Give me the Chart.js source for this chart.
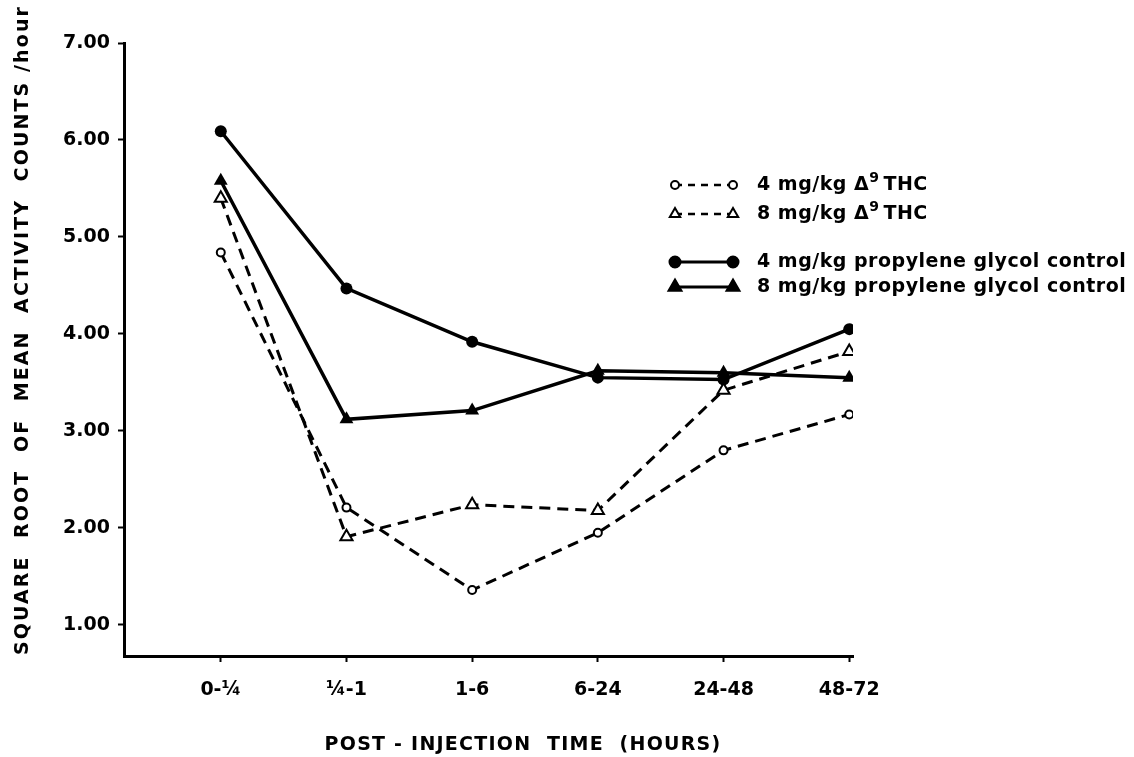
<!DOCTYPE html>
<html>
<head>
<meta charset="utf-8">
<script src="https://cdn.jsdelivr.net/npm/chart.js@4/dist/chart.umd.min.js"></script>
<style>
  html, body { margin: 0; padding: 0; background: #fff; }
  #wrap { width: 1134px; height: 757px; position: relative; }
</style>
</head>
<body>
<div id="wrap"><canvas id="myChart"></canvas></div>
<script>
// data
const timeLabels = ['0-¼', '¼-1', '1-6', '6-24', '24-48', '48-72'];
const yTicks = [1, 2, 3, 4, 5, 6, 7];
const thc4 = [4.84, 2.21, 1.36, 1.95, 2.80, 3.17];
const thc8 = [5.40, 1.91, 2.24, 2.18, 3.42, 3.82];
const pg4 = [6.09, 4.47, 3.92, 3.55, 3.53, 4.05];
const pg8 = [5.58, 3.12, 3.21, 3.62, 3.60, 3.55];
const seriesNames = [
  '4 mg/kg Δ⁹ THC',
  '8 mg/kg Δ⁹ THC',
  '4 mg/kg propylene glycol control',
  '8 mg/kg propylene glycol control'
];
const yTitle = 'SQUARE  ROOT  OF  MEAN  ACTIVITY  COUNTS /hour';
const xTitle = 'POST - INJECTION  TIME  (HOURS)';

const FONT = "'DejaVu Sans', sans-serif";

function pts(arr) {
  return arr.map((v, i) => ({ x: i, y: v }));
}

const data = {
  datasets: [
    {
      label: seriesNames[0],
      data: pts(thc4),
      borderColor: '#000',
      borderWidth: 3,
      borderDash: [11, 7],
      pointStyle: 'circle',
      pointRadius: 4,
      pointBorderWidth: 2,
      pointBackgroundColor: '#fff',
      pointBorderColor: '#000'
    },
    {
      label: seriesNames[1],
      data: pts(thc8),
      borderColor: '#000',
      borderWidth: 3,
      borderDash: [11, 7],
      pointStyle: 'triangle',
      pointRadius: 7,
      pointBorderWidth: 2,
      pointBackgroundColor: '#fff',
      pointBorderColor: '#000'
    },
    {
      label: seriesNames[2],
      data: pts(pg4),
      borderColor: '#000',
      borderWidth: 3.5,
      pointStyle: 'circle',
      pointRadius: 6,
      pointBorderWidth: 0,
      pointBackgroundColor: '#000',
      pointBorderColor: '#000'
    },
    {
      label: seriesNames[3],
      data: pts(pg8),
      borderColor: '#000',
      borderWidth: 3.5,
      pointStyle: 'triangle',
      pointRadius: 8,
      pointBorderWidth: 0,
      pointBackgroundColor: '#000',
      pointBorderColor: '#000'
    }
  ]
};

// legend rows drawn by hand (samples with a marker at each end)
const legendRows = [
  { y: 185, dash: [7, 6], style: 'circle', r: 4, fill: '#fff', lw: 2.5 },
  { y: 214, dash: [7, 6], style: 'triangle', r: 6, fill: '#fff', lw: 2.5 },
  { y: 262, dash: [], style: 'circle', r: 5.5, fill: '#000', lw: 3 },
  { y: 287, dash: [], style: 'triangle', r: 7.5, fill: '#000', lw: 3 }
];

function marker(ctx, style, x, y, r, fill) {
  ctx.beginPath();
  if (style === 'circle') {
    ctx.arc(x, y, r, 0, Math.PI * 2);
  } else {
    let a = 0;
    ctx.moveTo(x + Math.sin(a) * r, y - Math.cos(a) * r);
    a += Math.PI * 2 / 3;
    ctx.lineTo(x + Math.sin(a) * r, y - Math.cos(a) * r);
    a += Math.PI * 2 / 3;
    ctx.lineTo(x + Math.sin(a) * r, y - Math.cos(a) * r);
    ctx.closePath();
  }
  ctx.setLineDash([]);
  ctx.fillStyle = fill;
  ctx.fill();
  ctx.lineWidth = 2;
  ctx.strokeStyle = '#000';
  ctx.stroke();
}

function setSpacing(ctx, px) {
  if ('letterSpacing' in ctx) ctx.letterSpacing = px.toFixed(2) + 'px';
}

function spacedText(ctx, text, x, y, targetW) {
  setSpacing(ctx, 0);
  const w = ctx.measureText(text).width;
  if (targetW) setSpacing(ctx, (targetW - w) / text.length);
  ctx.fillText(text, x, y);
  setSpacing(ctx, 0);
}

// legend label: the superscript 9 is drawn as a raised smaller digit
function legendLabel(ctx, text, x, y) {
  const parts = text.split('⁹');
  ctx.textAlign = 'left';
  ctx.textBaseline = 'middle';
  setSpacing(ctx, 0.5);
  ctx.font = 'bold 19px ' + FONT;
  ctx.fillText(parts[0], x, y);
  x += ctx.measureText(parts[0]).width;
  if (parts.length > 1) {
    ctx.font = 'bold 14px ' + FONT;
    ctx.fillText('9', x, y - 7);
    x += ctx.measureText('9').width + 4;
    ctx.font = 'bold 19px ' + FONT;
    ctx.fillText(parts[1].trimStart(), x, y);
  }
  setSpacing(ctx, 0);
}

const paperPlugin = {
  id: 'paper',
  afterDraw(chart) {
    const ctx = chart.ctx;
    ctx.save();
    ctx.fillStyle = '#000';

    legendRows.forEach((row, i) => {
      ctx.beginPath();
      ctx.setLineDash(row.dash);
      ctx.lineWidth = row.lw;
      ctx.strokeStyle = '#000';
      ctx.moveTo(675, row.y);
      ctx.lineTo(733, row.y);
      ctx.stroke();
      marker(ctx, row.style, 675, row.y, row.r, row.fill);
      marker(ctx, row.style, 733, row.y, row.r, row.fill);
      ctx.fillStyle = '#000';
      legendLabel(ctx, seriesNames[i], 757, row.y);
    });

    // axis titles
    ctx.font = 'bold 19px ' + FONT;
    ctx.textAlign = 'center';
    ctx.textBaseline = 'middle';
    spacedText(ctx, xTitle, 523, 745, 397);

    ctx.translate(23, 330);
    ctx.rotate(-Math.PI / 2);
    spacedText(ctx, yTitle, 0, 0, 650);
    ctx.restore();
  }
};

const config = {
  type: 'line',
  data: data,
  options: {
    responsive: true,
    maintainAspectRatio: false,
    animation: false,
    layout: {
      padding: { top: 43, right: 281, bottom: 0, left: 0 }
    },
    plugins: {
      legend: { display: false },
      tooltip: { enabled: false }
    },
    scales: {
      x: {
        type: 'linear',
        min: -0.77,
        max: 5.03,
        afterBuildTicks: (s) => { s.ticks = timeLabels.map((_, i) => ({ value: i })); },
        afterFit: (s) => { s.height = 101; s.paddingLeft = 0; s.paddingRight = 0; },
        border: { color: '#000', width: 3 },
        grid: { drawOnChartArea: false, drawTicks: true, tickLength: 6, tickWidth: 2, tickColor: '#000' },
        ticks: {
          autoSkip: false,
          maxRotation: 0,
          padding: 17,
          color: '#000',
          font: { family: FONT, size: 19, weight: 'bold' },
          callback: (v) => timeLabels[v]
        }
      },
      y: {
        min: 0.68,
        max: 7,
        afterBuildTicks: (s) => { s.ticks = yTicks.map(v => ({ value: v })); },
        afterFit: (s) => { s.width = 124; s.paddingTop = 0; s.paddingBottom = 0; },
        border: { color: '#000', width: 3 },
        grid: { drawOnChartArea: false, drawTicks: true, tickLength: 6, tickWidth: 2, tickColor: '#000' },
        ticks: {
          padding: 8,
          color: '#000',
          font: { family: FONT, size: 19, weight: 'bold' },
          callback: (v) => v.toFixed(2)
        }
      }
    }
  },
  plugins: [paperPlugin]
};

const myChart = new Chart(document.getElementById('myChart'), config);
</script>
</body>
</html>
